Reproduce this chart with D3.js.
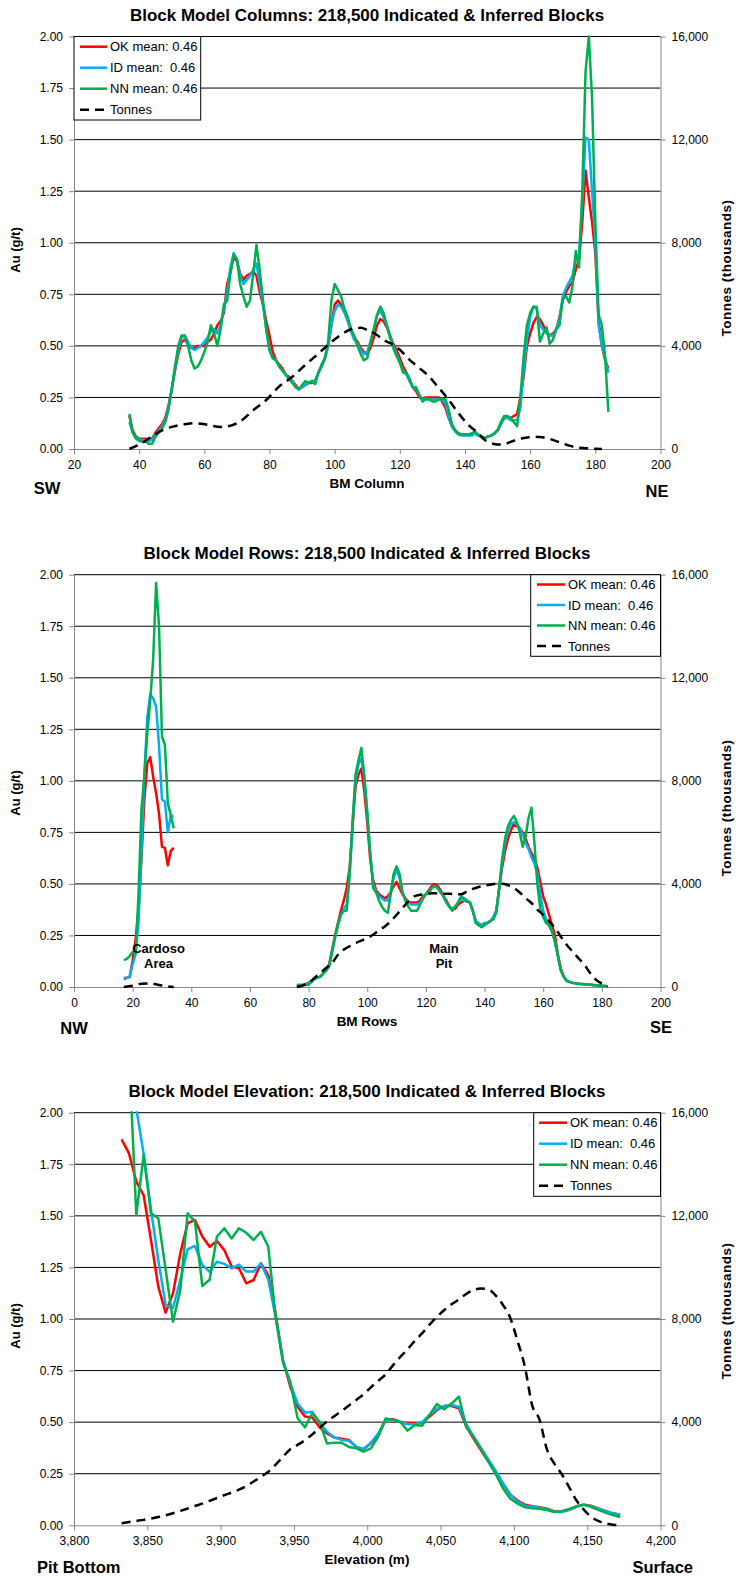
<!DOCTYPE html>
<html><head><meta charset="utf-8">
<script src="https://cdn.jsdelivr.net/npm/d3@7/dist/d3.min.js"></script>
<style>
body{margin:0;background:#fff;}
svg{display:block;font-family:"Liberation Sans",Arial,Helvetica,sans-serif;}
</style></head><body>
<svg id="c" width="736" height="1577"></svg>
<script>
// ---------------- DATA ----------------
const gradeTicks = [0,0.25,0.5,0.75,1,1.25,1.5,1.75,2];
const tonneTicks = [0,4000,8000,12000,16000];
const legendLabels = ["OK mean: 0.46","ID mean:  0.46","NN mean: 0.46","Tonnes"];

// Chart 1: Block model columns
const colX = d3.range(37,185);
const okCol = [0.16,0.09,0.06,0.05,0.05,0.05,0.05,0.05,0.08,0.10,0.12,0.15,0.21,0.29,0.38,0.46,
0.52,0.53,0.51,0.49,0.49,0.50,0.50,0.50,0.52,0.53,0.56,0.60,0.62,0.66,0.80,0.86,
0.93,0.91,0.85,0.82,0.84,0.85,0.86,0.84,0.76,0.70,0.62,0.55,0.47,0.43,0.41,0.39,
0.36,0.35,0.33,0.31,0.29,0.30,0.31,0.32,0.32,0.33,0.37,0.40,0.44,0.50,0.60,0.70,
0.72,0.70,0.67,0.63,0.58,0.54,0.52,0.49,0.47,0.46,0.49,0.54,0.60,0.63,0.62,0.59,
0.55,0.51,0.48,0.44,0.40,0.37,0.33,0.30,0.28,0.25,0.245,0.25,0.25,0.25,0.25,0.25,
0.23,0.20,0.15,0.11,0.09,0.075,0.07,0.07,0.07,0.07,0.075,0.07,0.06,0.055,0.06,0.065,
0.075,0.09,0.12,0.15,0.15,0.15,0.16,0.17,0.25,0.35,0.50,0.56,0.61,0.64,0.63,0.60,
0.57,0.55,0.56,0.58,0.64,0.72,0.76,0.79,0.81,0.87,0.92,1.10,1.35,1.22,1.10,0.95,
0.62,0.50,0.43,0.39];
const idCol = [0.13,0.08,0.055,0.045,0.045,0.04,0.04,0.045,0.07,0.09,0.11,0.14,0.20,0.29,0.39,0.48,
0.54,0.55,0.52,0.49,0.48,0.49,0.50,0.52,0.54,0.57,0.58,0.56,0.60,0.68,0.76,0.88,
0.95,0.92,0.84,0.80,0.82,0.84,0.87,0.90,0.80,0.70,0.58,0.48,0.44,0.43,0.40,0.38,
0.36,0.34,0.33,0.30,0.29,0.30,0.31,0.32,0.33,0.33,0.37,0.40,0.44,0.50,0.60,0.67,
0.70,0.69,0.66,0.62,0.57,0.53,0.51,0.48,0.46,0.47,0.52,0.58,0.65,0.67,0.64,0.60,
0.55,0.50,0.46,0.42,0.38,0.36,0.33,0.30,0.29,0.26,0.24,0.24,0.24,0.24,0.24,0.24,
0.24,0.22,0.16,0.11,0.085,0.07,0.065,0.065,0.065,0.065,0.075,0.065,0.06,0.055,0.06,0.065,
0.075,0.09,0.12,0.15,0.15,0.14,0.14,0.14,0.20,0.38,0.53,0.64,0.69,0.68,0.60,0.58,
0.56,0.55,0.55,0.58,0.63,0.74,0.78,0.81,0.84,0.92,0.95,1.20,1.51,1.50,1.25,1.00,
0.60,0.50,0.44,0.37];
const nnCol = [0.17,0.08,0.05,0.04,0.035,0.035,0.025,0.025,0.06,0.08,0.10,0.13,0.19,0.29,0.40,0.50,
0.55,0.55,0.50,0.43,0.39,0.40,0.43,0.47,0.52,0.60,0.56,0.50,0.58,0.70,0.72,0.85,
0.94,0.92,0.80,0.74,0.69,0.72,0.85,0.99,0.87,0.72,0.58,0.48,0.44,0.43,0.40,0.38,
0.36,0.34,0.32,0.30,0.29,0.31,0.33,0.32,0.33,0.315,0.37,0.41,0.44,0.52,0.72,0.80,
0.77,0.74,0.68,0.64,0.58,0.55,0.50,0.46,0.43,0.44,0.52,0.58,0.65,0.69,0.66,0.60,
0.54,0.49,0.45,0.42,0.37,0.37,0.34,0.30,0.30,0.26,0.23,0.245,0.24,0.23,0.23,0.24,
0.245,0.24,0.19,0.12,0.09,0.075,0.07,0.07,0.07,0.075,0.085,0.07,0.06,0.05,0.06,0.065,
0.075,0.09,0.13,0.16,0.16,0.15,0.13,0.11,0.25,0.45,0.60,0.66,0.69,0.69,0.52,0.56,
0.59,0.51,0.53,0.58,0.60,0.73,0.74,0.71,0.79,0.96,0.88,1.25,1.83,2.00,1.70,1.10,
0.65,0.60,0.45,0.18];
const tonColX = [37,40,44,47,50,54,57,61,65,68,71,75,79,83,87,91,95,99,103,106,108,110,113,115,118,120,123,126,129,132,135,138,141,144,146,148,150,152,155,158,161,163,166,169,172,175,178,182];
const tonCol = [0,170,490,720,860,960,1000,940,850,900,1070,1500,1900,2430,2800,3260,3700,4150,4520,4680,4700,4620,4420,4230,4040,3850,3460,3140,2810,2360,1910,1390,940,620,360,230,170,190,320,425,480,465,390,260,130,50,25,0];

// Chart 2: Block model rows (Cardoso area + main pit)
const rowsCardoso = [17,18,19,20,21,22,23,24,25,26,27,28,29,30,31,32,33,34];
const okCardoso = [0.044,0.045,0.048,0.13,0.23,0.375,0.62,0.91,1.085,1.115,1.02,0.94,0.84,0.68,0.675,0.59,0.66,0.675];
const idCardoso = [0.035,0.044,0.052,0.11,0.16,0.31,0.65,1.04,1.31,1.42,1.40,1.36,1.17,0.91,0.90,0.75,0.83,0.83];
const nnCardoso = [0.13,0.136,0.15,0.17,0.16,0.45,0.86,1.02,1.23,1.39,1.59,1.96,1.75,1.215,1.175,0.89,0.835,0.77];
const tonRowsCardoso = [17,20,23,26,29,32,34];
const tonCardoso = [0,50,130,140,80,20,0];

const rowsMain = [76,78,80,82,84,86,87,88,89,90,91,92,93,94,95,96,97,98,99,100,101,102,103,104,105,106,107,108,109,110,
111,112,113,114,115,116,117,118,119,120,121,122,123,124,125,126,127,128,129,130,131,132,133,134,135,136,137,138,139,140,
141,142,143,144,145,146,147,148,149,150,151,152,153,154,155,156,157,158,159,160,161,162,163,164,165,166,167,168,
170,172,174,176,178,180,182];
const okMain = [0.005,0.01,0.02,0.04,0.05,0.08,0.11,0.18,0.25,0.31,0.37,0.42,0.48,0.58,0.78,0.97,1.03,1.06,0.95,0.80,0.62,0.52,0.47,0.45,0.44,0.43,0.44,0.46,0.49,0.51,
0.48,0.45,0.43,0.41,0.41,0.41,0.41,0.42,0.44,0.45,0.47,0.49,0.50,0.49,0.47,0.44,0.42,0.39,0.38,0.38,0.40,0.41,0.42,0.415,0.41,0.37,0.32,0.30,0.30,0.31,
0.31,0.32,0.33,0.37,0.48,0.58,0.66,0.72,0.76,0.79,0.78,0.77,0.75,0.72,0.68,0.65,0.62,0.58,0.51,0.44,0.40,0.35,0.30,0.25,0.16,0.09,0.05,0.03,
0.02,0.016,0.013,0.011,0.009,0.006,0.004];
const idMain = [0.01,0.01,0.015,0.04,0.05,0.08,0.10,0.17,0.24,0.30,0.35,0.38,0.40,0.55,0.80,1.00,1.08,1.11,1.02,0.84,0.65,0.50,0.46,0.44,0.43,0.42,0.42,0.46,0.53,0.57,
0.53,0.46,0.42,0.41,0.40,0.40,0.40,0.41,0.43,0.45,0.46,0.48,0.49,0.48,0.46,0.44,0.41,0.39,0.38,0.39,0.41,0.43,0.42,0.42,0.41,0.37,0.32,0.31,0.30,0.31,
0.31,0.32,0.34,0.37,0.48,0.60,0.70,0.76,0.79,0.80,0.79,0.77,0.74,0.70,0.67,0.63,0.60,0.55,0.45,0.37,0.33,0.30,0.27,0.22,0.15,0.08,0.05,0.03,
0.02,0.016,0.013,0.011,0.009,0.006,0.004];
const nnMain = [0.01,0.01,0.01,0.04,0.05,0.08,0.10,0.17,0.24,0.30,0.35,0.37,0.37,0.55,0.80,1.03,1.10,1.16,1.02,0.85,0.65,0.48,0.46,0.42,0.39,0.37,0.36,0.45,0.55,0.585,
0.55,0.46,0.42,0.39,0.37,0.37,0.37,0.40,0.43,0.45,0.46,0.48,0.49,0.48,0.46,0.44,0.41,0.39,0.37,0.39,0.41,0.44,0.43,0.42,0.41,0.37,0.31,0.30,0.29,0.30,
0.31,0.32,0.33,0.36,0.48,0.62,0.72,0.78,0.81,0.83,0.80,0.75,0.68,0.73,0.82,0.87,0.70,0.50,0.38,0.34,0.31,0.30,0.27,0.22,0.15,0.08,0.05,0.03,
0.02,0.016,0.013,0.011,0.009,0.006,0.004];
const tonRowsMain = [76,78,80,82,84,86,88,90,92,94,96,98,100,102,104,106,108,110,112,114,116,118,120,122,124,126,128,130,132,134,136,138,140,142,144,146,148,150,152,154,156,158,160,162,164,166,168,170,172,174,176,178,180,182];
const tonMain = [0,60,155,350,540,740,930,1250,1450,1580,1700,1800,1900,2030,2200,2350,2550,2800,3060,3320,3520,3580,3600,3640,3640,3620,3620,3600,3600,3710,3810,3880,3930,3970,4010,4010,3950,3840,3670,3450,3260,3000,2800,2550,2290,1960,1640,1380,1120,870,540,280,130,30];

// Chart 3: Block model elevation (5 m benches)
const elevX = d3.range(3832.5,4175,5);
const okElev = [1.871,1.803,1.666,1.60,1.383,1.157,1.031,1.124,1.318,1.464,
1.48,1.40,1.35,1.378,1.334,1.254,1.246,1.173,1.189,1.27,
1.213,1.027,0.80,0.672,0.575,0.527,0.523,0.475,0.446,0.426,
0.42,0.414,0.38,0.368,0.397,0.438,0.51,0.514,0.502,0.494,
0.494,0.497,0.527,0.559,0.578,0.578,0.567,0.48,0.42,0.365,
0.31,0.255,0.20,0.15,0.12,0.10,0.092,0.088,0.08,0.068,
0.065,0.075,0.09,0.10,0.095,0.082,0.07,0.058,0.05];
const idElev = [null,2.4,2.02,1.80,1.53,1.286,1.068,1.052,1.189,1.338,
1.354,1.262,1.229,1.278,1.267,1.246,1.263,1.23,1.23,1.27,
1.19,1.01,0.80,0.688,0.59,0.546,0.55,0.494,0.454,0.426,
0.414,0.41,0.38,0.37,0.40,0.445,0.51,0.51,0.50,0.49,
0.49,0.50,0.535,0.565,0.578,0.583,0.575,0.49,0.43,0.375,
0.32,0.265,0.205,0.15,0.115,0.095,0.09,0.085,0.078,0.066,
0.064,0.074,0.089,0.10,0.093,0.08,0.069,0.058,0.052];
const nnElev = [null,2.29,1.504,1.795,1.512,1.488,1.24,0.987,1.14,1.512,
1.472,1.16,1.19,1.40,1.44,1.39,1.44,1.418,1.383,1.423,
1.35,1.01,0.79,0.696,0.519,0.475,0.543,0.502,0.397,0.40,
0.40,0.38,0.373,0.357,0.373,0.43,0.518,0.51,0.502,0.459,
0.486,0.483,0.535,0.588,0.562,0.59,0.624,0.475,0.43,0.37,
0.31,0.25,0.18,0.13,0.105,0.088,0.083,0.08,0.074,0.064,
0.068,0.078,0.092,0.10,0.09,0.075,0.062,0.05,0.04];
const tonElev = [80,130,170,210,260,320,390,470,560,650,
750,840,950,1060,1170,1270,1380,1520,1700,1880,
2080,2350,2650,2950,3120,3300,3520,3780,4020,4230,
4430,4650,4860,5080,5350,5600,5850,6200,6530,6830,
7150,7450,7780,8080,8350,8570,8760,8970,9120,9180,
9150,8920,8550,8050,7150,6150,4650,4100,2950,2400,
2000,1500,980,620,340,170,80,25,0];

// ---------------- DRAWING ----------------
const COLORS = {ok:"#FF0000", id:"#00B0F0", nn:"#00B050", ton:"#000000"};
const PL = 74, PR = 660.5;
const svg = d3.select("#c");
svg.append("rect").attr("width",736).attr("height",1577).attr("fill","#fff");
let clipId = 0;

function drawChart(cfg){
  const g = svg.append("g");
  const x = d3.scaleLinear(cfg.xDomain,[PL,PR]);
  const y = d3.scaleLinear([0,2],[cfg.bottom,cfg.top]);
  const y2 = d3.scaleLinear([0,16000],[cfg.bottom,cfg.top]);

  // horizontal gridlines
  g.append("g").selectAll("line").data(gradeTicks.slice(1)).join("line")
    .attr("x1",PL).attr("x2",PR).attr("y1",d=>y(d)).attr("y2",d=>y(d))
    .attr("stroke","#000").attr("stroke-width",1);

  const styleAxis = sel => {
    sel.select(".domain").attr("stroke","#868686").attr("stroke-width",1);
    sel.selectAll(".tick line").attr("stroke","#868686");
    sel.selectAll(".tick text").attr("fill","#000").attr("font-size","12px")
      .attr("font-family",'"Liberation Sans",Arial,sans-serif');
  };
  g.append("g").attr("transform",`translate(${PL},0)`)
    .call(d3.axisLeft(y).tickValues(gradeTicks).tickFormat(d3.format(".2f")).tickSize(5).tickPadding(6).tickSizeOuter(0))
    .call(styleAxis);
  g.append("g").attr("transform",`translate(${PR},0)`)
    .call(d3.axisRight(y2).tickValues(tonneTicks).tickFormat(d3.format(",")).tickSize(5).tickPadding(6).tickSizeOuter(0))
    .call(styleAxis);
  g.append("g").attr("transform",`translate(0,${cfg.bottom})`)
    .call(d3.axisBottom(x).tickValues(cfg.xTicks).tickFormat(cfg.xFormat).tickSize(5).tickPadding(6).tickSizeOuter(0))
    .call(styleAxis);

  // clip
  const id = "clip"+(clipId++);
  svg.append("clipPath").attr("id",id).append("rect")
    .attr("x",PL).attr("y",cfg.top-1.5).attr("width",PR-PL).attr("height",cfg.bottom-cfg.top+4);

  const plot = g.append("g").attr("clip-path",`url(#${id})`);
  cfg.series.forEach(s=>{
    const pts = s.x.map((xx,i)=>[xx,s.v[i]]);
    const yy = s.type==="ton" ? y2 : y;
    const line = d3.line().defined(d=>d[1]!=null)
      .x(d=>x(d[0])).y(d=>yy(d[1]))
      .curve(s.type==="ton" ? d3.curveMonotoneX : d3.curveLinear);
    plot.append("path").datum(pts).attr("d",line).attr("fill","none")
      .attr("stroke",COLORS[s.type]).attr("stroke-width",2.5)
      .attr("stroke-linejoin","round")
      .attr("stroke-dasharray", s.type==="ton" ? "9,6" : null);
  });

  // title
  g.append("text").attr("x",367).attr("y",cfg.titleY).attr("text-anchor","middle")
    .attr("font-size","17px").attr("font-weight","bold").text(cfg.title);

  // axis titles
  g.append("text").attr("transform",`translate(20,${cfg.auY}) rotate(-90)`).attr("text-anchor","middle")
    .attr("font-size","13px").attr("font-weight","bold").text("Au (g/t)");
  g.append("text").attr("transform",`translate(731,${cfg.tonY}) rotate(-90)`).attr("text-anchor","middle")
    .attr("font-size","13.5px").attr("font-weight","bold").attr("letter-spacing","0.5px").text("Tonnes (thousands)");
  g.append("text").attr("x",367).attr("y",cfg.xTitleY).attr("text-anchor","middle")
    .attr("font-size","13.5px").attr("font-weight","bold").text(cfg.xTitle);
  g.append("text").attr("x",cfg.leftLab.x).attr("y",cfg.leftLab.y).attr("text-anchor",cfg.leftLab.anchor)
    .attr("font-size","16.5px").attr("font-weight","bold").text(cfg.leftLab.t);
  g.append("text").attr("x",cfg.rightLab.x).attr("y",cfg.rightLab.y).attr("text-anchor",cfg.rightLab.anchor)
    .attr("font-size","16.5px").attr("font-weight","bold").text(cfg.rightLab.t);

  // annotations
  (cfg.notes||[]).forEach(n=>{
    n.lines.forEach((t,i)=>{
      g.append("text").attr("x",n.x).attr("y",n.y+i*15.5).attr("text-anchor","middle")
        .attr("font-size","13px").attr("font-weight","bold").text(t);
    });
  });

  // legend
  const L = cfg.legend;
  const lg = g.append("g");
  lg.append("rect").attr("x",L.x0).attr("y",L.y0).attr("width",L.x1-L.x0).attr("height",L.y1-L.y0)
    .attr("fill","#fff").attr("stroke","#000").attr("stroke-width",1);
  const types = ["ok","id","nn","ton"];
  types.forEach((t,i)=>{
    const yy = L.ys[i];
    lg.append("line").attr("x1",L.lx0).attr("x2",L.lx1).attr("y1",yy).attr("y2",yy)
      .attr("stroke",COLORS[t]).attr("stroke-width",2.5)
      .attr("stroke-dasharray", t==="ton" ? "9,6" : null);
    lg.append("text").attr("x",L.tx).attr("y",yy).attr("dy","0.36em")
      .attr("font-size","13px").style("white-space","pre").text(legendLabels[i]);
  });
}

drawChart({
  title:"Block Model Columns: 218,500 Indicated & Inferred Blocks", titleY:21,
  top:36.5, bottom:449, xDomain:[20,200], xTicks:d3.range(20,201,20), xFormat:d3.format("d"),
  xTitle:"BM Column", xTitleY:488, auY:250, tonY:268,
  leftLab:{t:"SW",x:47,y:494,anchor:"middle"}, rightLab:{t:"NE",x:657,y:497,anchor:"middle"},
  legend:{x0:74,x1:200.7,y0:36.5,y1:120,ys:[46.7,67.7,88.7,109.7],lx0:80,lx1:107,tx:110},
  series:[
    {type:"ok",x:colX,v:okCol},{type:"id",x:colX,v:idCol},{type:"nn",x:colX,v:nnCol},
    {type:"ton",x:tonColX,v:tonCol}
  ]
});

drawChart({
  title:"Block Model Rows: 218,500 Indicated & Inferred Blocks", titleY:559,
  top:574.7, bottom:987, xDomain:[0,200], xTicks:d3.range(0,201,20), xFormat:d3.format("d"),
  xTitle:"BM Rows", xTitleY:1026, auY:793, tonY:808,
  leftLab:{t:"NW",x:74,y:1034,anchor:"middle"}, rightLab:{t:"SE",x:661,y:1033,anchor:"middle"},
  legend:{x0:530.7,x1:660.5,y0:574.7,y1:656.3,ys:[584.5,605,625.5,646],lx0:537,lx1:565,tx:568},
  notes:[{x:158.5,y:952.5,lines:["Cardoso","Area"]},{x:444,y:952.5,lines:["Main","Pit"]}],
  series:[
    {type:"ok",x:rowsCardoso,v:okCardoso},{type:"id",x:rowsCardoso,v:idCardoso},{type:"nn",x:rowsCardoso,v:nnCardoso},
    {type:"ok",x:rowsMain,v:okMain},{type:"id",x:rowsMain,v:idMain},{type:"nn",x:rowsMain,v:nnMain},
    {type:"ton",x:tonRowsCardoso,v:tonCardoso},{type:"ton",x:tonRowsMain,v:tonMain}
  ]
});

drawChart({
  title:"Block Model Elevation: 218,500 Indicated & Inferred Blocks", titleY:1097,
  top:1112.7, bottom:1525.3, xDomain:[3800,4200], xTicks:d3.range(3800,4201,50), xFormat:d3.format(","),
  xTitle:"Elevation (m)", xTitleY:1564, auY:1326, tonY:1311,
  leftLab:{t:"Pit Bottom",x:37,y:1573,anchor:"start"}, rightLab:{t:"Surface",x:693,y:1573,anchor:"end"},
  legend:{x0:533.7,x1:660.5,y0:1112.7,y1:1196.3,ys:[1122.7,1143.7,1164.7,1185.7],lx0:539,lx1:567,tx:570},
  series:[
    {type:"ok",x:elevX,v:okElev},{type:"id",x:elevX,v:idElev},{type:"nn",x:elevX,v:nnElev},
    {type:"ton",x:elevX,v:tonElev}
  ]
});
</script>
</body></html>
